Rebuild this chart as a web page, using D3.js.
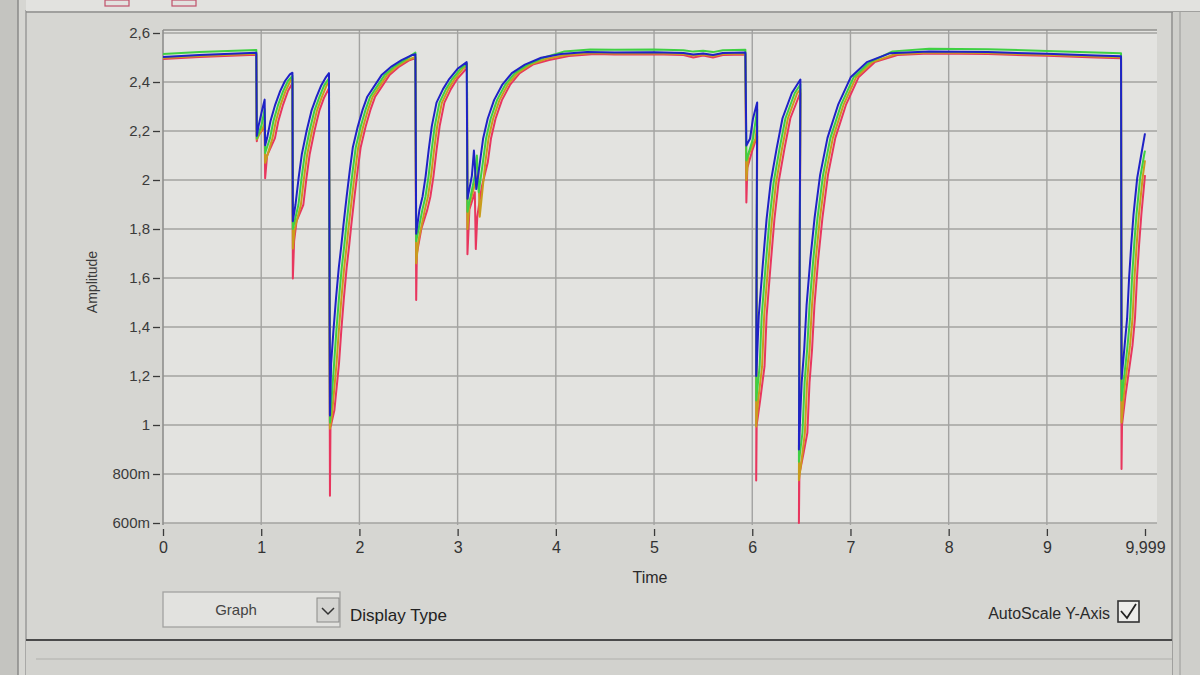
<!DOCTYPE html>
<html><head><meta charset="utf-8">
<script src="https://cdn.jsdelivr.net/npm/d3@7"></script>
<style>
html,body{margin:0;padding:0;background:#d8d8d5;}
svg{display:block;}
text{font-family:"Liberation Sans",Arial,sans-serif;}
</style></head>
<body><svg id="chart" width="1200" height="675"></svg>
<script>
// ---------- data ----------
const timeDomain = [0, 9.999];
const ampDomain = [0.6, 2.6];
const xTickValues = [0,1,2,3,4,5,6,7,8,9,9.999];
const xTickLabels = ["0","1","2","3","4","5","6","7","8","9","9,999"];
const yTickValues = [0.6,0.8,1.0,1.2,1.4,1.6,1.8,2.0,2.2,2.4,2.6];
const yTickLabels = ["600m","800m","1","1,2","1,4","1,6","1,8","2","2,2","2,4","2,6"];
const seriesNames = ["Red","Orange","Green","Blue"];

const seriesBlue = [
[0,2.502],[0.37,2.51],[0.95,2.519],
[0.955,2.18],[0.975,2.225],[1.01,2.287],[1.035,2.328],
[1.04,2.142],[1.06,2.171],[1.094,2.24],[1.143,2.308],[1.193,2.363],[1.242,2.404],[1.292,2.431],[1.318,2.438],
[1.322,1.832],[1.349,1.899],[1.381,2.009],[1.413,2.104],[1.462,2.2],[1.512,2.283],[1.561,2.337],[1.611,2.386],[1.66,2.42],[1.69,2.436],
[1.7,1.039],[1.712,1.25],[1.735,1.383],[1.762,1.519],[1.79,1.642],[1.815,1.73],[1.838,1.819],[1.869,1.929],[1.902,2.039],[1.933,2.134],[1.982,2.216],[2.031,2.285],[2.08,2.34],[2.148,2.381],[2.229,2.43],[2.329,2.464],[2.429,2.489],[2.529,2.509],[2.57,2.513],
[2.578,1.781],[2.611,1.878],[2.643,1.933],[2.674,2.015],[2.706,2.125],[2.737,2.22],[2.785,2.316],[2.851,2.371],[2.916,2.413],[2.999,2.454],[3.092,2.481],
[3.1,1.923],[3.145,2.017],[3.166,2.12],[3.19,1.963],[3.227,2.072],[3.259,2.168],[3.306,2.25],[3.371,2.326],[3.453,2.388],[3.552,2.436],[3.685,2.471],[3.851,2.499],[4.052,2.514],[4.318,2.522],
[4.6,2.52],[5.0,2.521],[5.3,2.518],[5.4,2.512],[5.5,2.516],[5.6,2.51],[5.7,2.518],[5.93,2.52],
[5.94,2.141],[5.977,2.168],[6.007,2.25],[6.05,2.316],
[6.04,1.2],[6.045,1.239],[6.066,1.444],[6.106,1.649],[6.146,1.841],[6.188,1.991],[6.248,2.128],[6.308,2.252],[6.403,2.355],[6.49,2.41],
[6.475,0.9],[6.481,0.968],[6.503,1.173],[6.529,1.31],[6.553,1.488],[6.592,1.679],[6.634,1.843],[6.691,2.021],[6.766,2.172],[6.876,2.309],[7.002,2.419],[7.166,2.481],[7.398,2.517],[7.8,2.524],[8.4,2.522],[9.0,2.515],[9.5,2.508],[9.755,2.505],
[9.76,1.189],[9.792,1.326],[9.817,1.436],[9.837,1.6],[9.859,1.736],[9.882,1.859],[9.92,2.01],[9.962,2.106],[9.999,2.19]
];

const seriesGreen = [
[0,2.514],[0.37,2.522],[0.95,2.531],
[0.955,2.17],[1.005,2.225],[1.035,2.29],
[1.04,2.11],[1.09,2.171],[1.124,2.24],[1.173,2.308],[1.223,2.363],[1.272,2.404],[1.318,2.425],
[1.322,1.8],[1.379,1.899],[1.411,2.009],[1.443,2.104],[1.492,2.2],[1.542,2.283],[1.591,2.337],[1.641,2.386],[1.69,2.415],
[1.7,1.01],[1.742,1.25],[1.765,1.383],[1.792,1.519],[1.82,1.642],[1.845,1.73],[1.868,1.819],[1.899,1.929],[1.932,2.039],[1.963,2.134],[2.012,2.216],[2.061,2.285],[2.11,2.34],[2.178,2.381],[2.259,2.43],[2.359,2.464],[2.459,2.489],[2.57,2.52],
[2.578,1.75],[2.641,1.878],[2.673,1.933],[2.704,2.015],[2.736,2.125],[2.767,2.22],[2.815,2.316],[2.881,2.371],[2.946,2.413],[3.029,2.454],[3.095,2.475],
[3.1,1.87],[3.175,2.017],[3.196,2.1],[3.215,1.95],[3.257,2.072],[3.289,2.168],[3.336,2.25],[3.401,2.326],[3.483,2.388],[3.582,2.436],[3.715,2.471],[3.881,2.5],[4.08,2.524],[4.35,2.533],
[4.6,2.532],[5.0,2.533],[5.3,2.53],[5.4,2.524],[5.5,2.528],[5.6,2.522],[5.7,2.53],[5.93,2.532],
[5.94,2.08],[6.007,2.168],[6.037,2.25],[6.05,2.29],
[6.04,1.1],[6.075,1.239],[6.096,1.444],[6.136,1.649],[6.176,1.841],[6.218,1.991],[6.278,2.128],[6.338,2.252],[6.433,2.355],[6.49,2.39],
[6.475,0.85],[6.511,0.968],[6.533,1.173],[6.559,1.31],[6.583,1.488],[6.622,1.679],[6.664,1.843],[6.721,2.021],[6.796,2.172],[6.906,2.309],[7.032,2.419],[7.196,2.481],[7.428,2.525],[7.8,2.536],[8.4,2.534],[9.0,2.527],[9.5,2.52],[9.755,2.517],
[9.76,1.1],[9.822,1.326],[9.847,1.436],[9.867,1.6],[9.889,1.736],[9.912,1.859],[9.95,2.01],[9.992,2.106],[9.999,2.12]
];

const seriesOrange = [
[0,2.498],[0.37,2.506],[0.95,2.515],
[0.955,2.165],[1.03,2.225],[1.035,2.24],
[1.04,2.07],[1.115,2.171],[1.149,2.24],[1.198,2.308],[1.247,2.363],[1.297,2.404],[1.318,2.415],
[1.322,1.72],[1.34,1.8],[1.404,1.899],[1.436,2.009],[1.468,2.104],[1.517,2.2],[1.567,2.283],[1.616,2.337],[1.666,2.386],[1.69,2.4],
[1.7,0.985],[1.72,1.04],[1.767,1.25],[1.79,1.383],[1.817,1.519],[1.845,1.642],[1.87,1.73],[1.893,1.819],[1.924,1.929],[1.957,2.039],[1.988,2.134],[2.037,2.216],[2.086,2.285],[2.135,2.34],[2.203,2.381],[2.284,2.43],[2.384,2.464],[2.484,2.489],[2.57,2.502],
[2.578,1.66],[2.6,1.75],[2.666,1.878],[2.698,1.933],[2.729,2.015],[2.761,2.125],[2.792,2.22],[2.84,2.316],[2.906,2.371],[2.971,2.413],[3.054,2.454],[3.095,2.465],
[3.1,1.8],[3.12,1.9],[3.2,2.017],[3.21,2.05],[3.225,1.85],[3.282,2.072],[3.314,2.168],[3.361,2.25],[3.426,2.326],[3.508,2.388],[3.607,2.436],[3.74,2.471],[3.906,2.495],[4.107,2.51],[4.373,2.518],
[4.6,2.516],[5.0,2.517],[5.3,2.514],[5.4,2.508],[5.5,2.512],[5.6,2.506],[5.7,2.514],[5.93,2.516],
[5.94,2.0],[5.96,2.1],[6.032,2.168],[6.05,2.22],
[6.04,0.994],[6.06,1.1],[6.1,1.239],[6.121,1.444],[6.161,1.649],[6.201,1.841],[6.243,1.991],[6.303,2.128],[6.363,2.252],[6.458,2.355],[6.49,2.37],
[6.475,0.775],[6.5,0.85],[6.536,0.968],[6.558,1.173],[6.584,1.31],[6.608,1.488],[6.647,1.679],[6.689,1.843],[6.746,2.021],[6.821,2.172],[6.931,2.309],[7.057,2.419],[7.221,2.481],[7.453,2.513],[7.8,2.52],[8.4,2.518],[9.0,2.511],[9.5,2.504],[9.755,2.501],
[9.76,1.01],[9.79,1.15],[9.847,1.326],[9.872,1.436],[9.892,1.6],[9.914,1.736],[9.937,1.859],[9.975,2.01],[9.999,2.08]
];

const seriesRed = [
[0,2.494],[0.37,2.502],[0.95,2.511],
[0.955,2.158],[0.965,2.18],[1.035,2.215],
[1.04,2.007],[1.06,2.1],[1.14,2.171],[1.174,2.24],[1.223,2.308],[1.272,2.363],[1.318,2.395],
[1.322,1.598],[1.335,1.75],[1.36,1.832],[1.429,1.899],[1.461,2.009],[1.493,2.104],[1.542,2.2],[1.592,2.283],[1.641,2.337],[1.69,2.375],
[1.7,0.711],[1.705,0.99],[1.745,1.06],[1.792,1.25],[1.815,1.383],[1.842,1.519],[1.87,1.642],[1.895,1.73],[1.918,1.819],[1.949,1.929],[1.982,2.039],[2.013,2.134],[2.062,2.216],[2.111,2.285],[2.16,2.34],[2.228,2.381],[2.309,2.43],[2.409,2.464],[2.509,2.489],[2.57,2.498],
[2.578,1.51],[2.585,1.7],[2.63,1.8],[2.691,1.878],[2.723,1.933],[2.754,2.015],[2.786,2.125],[2.817,2.22],[2.865,2.316],[2.931,2.371],[2.996,2.413],[3.079,2.45],[3.095,2.455],
[3.1,1.697],[3.12,1.88],[3.175,1.95],[3.185,1.718],[3.2,1.85],[3.245,1.97],[3.307,2.072],[3.339,2.168],[3.386,2.25],[3.451,2.326],[3.533,2.388],[3.632,2.436],[3.765,2.471],[3.931,2.49],[4.132,2.506],[4.398,2.514],
[4.6,2.512],[5.0,2.513],[5.3,2.51],[5.4,2.5],[5.5,2.508],[5.6,2.5],[5.7,2.51],[5.93,2.512],
[5.94,1.908],[5.95,2.05],[6.0,2.12],[6.05,2.18],
[6.04,0.773],[6.045,1.0],[6.08,1.1],[6.125,1.239],[6.146,1.444],[6.186,1.649],[6.226,1.841],[6.268,1.991],[6.328,2.128],[6.388,2.252],[6.483,2.35],[6.49,2.355],
[6.475,0.6],[6.48,0.8],[6.52,0.88],[6.561,0.968],[6.583,1.173],[6.609,1.31],[6.633,1.488],[6.672,1.679],[6.714,1.843],[6.771,2.021],[6.846,2.172],[6.956,2.309],[7.082,2.419],[7.246,2.481],[7.478,2.51],[7.8,2.516],[8.4,2.514],[9.0,2.507],[9.5,2.5],[9.755,2.497],
[9.76,0.82],[9.765,1.0],[9.8,1.12],[9.872,1.326],[9.897,1.436],[9.917,1.6],[9.939,1.736],[9.962,1.859],[9.999,2.02]
];

// ---------- styles ----------
const seriesColors = {Red:"#e8365e", Orange:"#c99d1c", Green:"#3fd043", Blue:"#1f22c6"};
const seriesData = {Red:seriesRed, Orange:seriesOrange, Green:seriesGreen, Blue:seriesBlue};

const svg = d3.select("#chart");
const plot = {left:163, right:1145, top:33, bottom:523};

const x = d3.scaleLinear().domain(timeDomain).range([plot.left, plot.right]);
const y = d3.scaleLinear().domain(ampDomain).range([plot.bottom, plot.top]);

// window chrome
svg.append("rect").attr("x",0).attr("y",0).attr("width",1200).attr("height",675).attr("fill","#d6d6d2");
svg.append("rect").attr("x",0).attr("y",0).attr("width",18).attr("height",675).attr("fill","#c4c4c0");
svg.append("line").attr("x1",18).attr("x2",18).attr("y1",0).attr("y2",675).attr("stroke","#8a8a88").attr("stroke-width",1.5);
svg.append("line").attr("x1",26).attr("x2",26).attr("y1",10).attr("y2",675).attr("stroke","#9a9a98").attr("stroke-width",1.5);
svg.append("rect").attr("x",26).attr("y",0).attr("width",1174).attr("height",11).attr("fill","#e2e2df");
svg.append("line").attr("x1",26).attr("x2",1200).attr("y1",12).attr("y2",12).attr("stroke","#8e8e8c").attr("stroke-width",1.5);
svg.append("line").attr("x1",1172).attr("x2",1172).attr("y1",12).attr("y2",675).attr("stroke","#8e8e8c").attr("stroke-width",1.5);
svg.append("rect").attr("x",1173).attr("y",12).attr("width",27).attr("height",663).attr("fill","#cfcfcb");
svg.append("line").attr("x1",1180).attr("x2",1180).attr("y1",12).attr("y2",675).attr("stroke","#9a9a98").attr("stroke-width",1);
svg.append("line").attr("x1",26).attr("x2",1172).attr("y1",640).attr("y2",640).attr("stroke","#4a4a4a").attr("stroke-width",2);
svg.append("rect").attr("x",26).attr("y",641).attr("width",1146).attr("height",34).attr("fill","#d2d2ce");
svg.append("line").attr("x1",36).attr("x2",1172).attr("y1",659).attr("y2",659).attr("stroke","#b0b0ac").attr("stroke-width",1);
// tiny toolbar icons at top
svg.append("rect").attr("x",105).attr("y",0).attr("width",24).attr("height",6).attr("fill","none").attr("stroke","#c0506a").attr("stroke-width",1.2);
svg.append("rect").attr("x",172).attr("y",0).attr("width",24).attr("height",6).attr("fill","none").attr("stroke","#c0506a").attr("stroke-width",1.2);

// plot background
svg.append("rect").attr("x",plot.left).attr("y",plot.top-3).attr("width",plot.right-plot.left+12)
  .attr("height",plot.bottom-plot.top+3).attr("fill","#e3e3e0");

// grid
const grid = svg.append("g");
grid.selectAll("line.h").data(yTickValues).join("line")
  .attr("x1",plot.left).attr("x2",plot.right+12)
  .attr("y1",d=>y(d)).attr("y2",d=>y(d))
  .attr("stroke","#a3a3a1").attr("stroke-width",1.4);
grid.selectAll("line.v").data(xTickValues.slice(1,10)).join("line")
  .attr("x1",d=>x(d)).attr("x2",d=>x(d))
  .attr("y1",plot.top-3).attr("y2",plot.bottom+2)
  .attr("stroke","#a3a3a1").attr("stroke-width",1.4);
svg.append("line").attr("x1",plot.left).attr("x2",plot.right+12).attr("y1",plot.top-3).attr("y2",plot.top-3)
  .attr("stroke","#8f8f8d").attr("stroke-width",1.4);
svg.append("line").attr("x1",plot.left).attr("x2",plot.left).attr("y1",plot.top-3).attr("y2",plot.bottom+2)
  .attr("stroke","#8f8f8d").attr("stroke-width",1.6);

// clip
svg.append("clipPath").attr("id","clip").append("rect")
  .attr("x",plot.left).attr("y",plot.top-3).attr("width",plot.right-plot.left+12).attr("height",plot.bottom-plot.top+14);

const line = d3.line().x(d=>x(d[0])).y(d=>y(d[1]));
const lines = svg.append("g").attr("clip-path","url(#clip)");
seriesNames.forEach(name=>{
  lines.append("path").datum(seriesData[name])
    .attr("d",line).attr("fill","none")
    .attr("stroke",seriesColors[name]).attr("stroke-width",2)
    .attr("stroke-linejoin","round");
});

// y axis
const yAxis = d3.axisLeft(y).tickValues(yTickValues)
  .tickFormat((d,i)=>yTickLabels[i]).tickSize(7).tickPadding(3);
const gy = svg.append("g").attr("transform",`translate(${plot.left-3},0)`).call(yAxis);
gy.select(".domain").remove();
gy.selectAll(".tick line").attr("stroke","#3a3a3a").attr("stroke-width",1.3);
gy.selectAll(".tick text").attr("fill","#3a3a3a").attr("font-size",15).attr("font-family","Liberation Sans, Arial, sans-serif");

// x axis
const xAxis = d3.axisBottom(x).tickValues(xTickValues)
  .tickFormat((d,i)=>xTickLabels[i]).tickSize(7).tickPadding(6);
const gx = svg.append("g").attr("transform",`translate(0,${plot.bottom+6})`).call(xAxis);
gx.select(".domain").remove();
gx.selectAll(".tick line").attr("stroke","#3a3a3a").attr("stroke-width",1.3);
gx.selectAll(".tick text").attr("fill","#333").attr("font-size",16).attr("font-family","Liberation Sans, Arial, sans-serif");

// axis titles
svg.append("text").attr("x",650).attr("y",583).attr("text-anchor","middle")
  .attr("font-size",16).attr("fill","#2a2a2a").text("Time");
svg.append("text").attr("transform","translate(97,282) rotate(-90)").attr("text-anchor","middle")
  .attr("font-size",14).attr("fill","#3a3a3a").text("Amplitude");

// bottom controls
svg.append("rect").attr("x",163).attr("y",592).attr("width",177).attr("height",35)
  .attr("fill","#e2e2df").attr("stroke","#a2a2a0").attr("stroke-width",1.3);
svg.append("text").attr("x",236).attr("y",615).attr("text-anchor","middle")
  .attr("font-size",15).attr("fill","#444").text("Graph");
svg.append("rect").attr("x",317).attr("y",598).attr("width",22).attr("height",24)
  .attr("fill","#d4d4d1").attr("stroke","#8a8a88").attr("stroke-width",1);
svg.append("path").attr("d","M322,608 L328,614 L334,608").attr("fill","none").attr("stroke","#333").attr("stroke-width",1.5);
svg.append("text").attr("x",350).attr("y",621).attr("font-size",17).attr("fill","#222").text("Display Type");
svg.append("text").attr("x",1110).attr("y",619).attr("text-anchor","end").attr("font-size",16).attr("fill","#2a2a2a").text("AutoScale Y-Axis");
svg.append("rect").attr("x",1118).attr("y",601).attr("width",21).attr("height",21)
  .attr("fill","#ececea").attr("stroke","#333").attr("stroke-width",1.6);
svg.append("path").attr("d","M1121,611 L1127,618 L1136,604").attr("fill","none").attr("stroke","#222").attr("stroke-width",1.8);
</script></body></html>
